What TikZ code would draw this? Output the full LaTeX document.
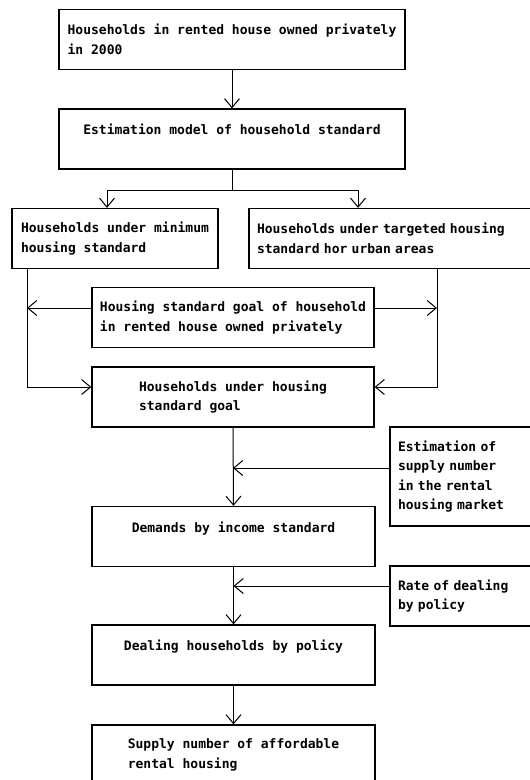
\documentclass[tikz,border=0pt]{standalone}
\usepackage{fontspec}
\setmonofont{DejaVu Sans Mono}
\usetikzlibrary{positioning, arrows.meta}

\begin{document}
\begin{tikzpicture}[x=1pt, y=1pt,
    box/.style={
        rectangle,
        draw=black,
        line width=1.3pt,
        inner sep=0pt,
        align=left,
        minimum height=60pt,
        font=\ttfamily\bfseries\fontsize{13}{19.5}\selectfont
    },
    sidebox/.style={box, inner xsep=8pt, text width=#1},
    arrow/.style={-{Straight Barb[length=9pt, width=15pt]}, line width=1pt}
]
\useasboundingbox (0,0) rectangle (530,-780);
\clip (0,0) rectangle (530,-780);
\fill[white] (0,0) rectangle (530,-780);

% === Source and model ===
\node[box, minimum width=346pt] (hh2000) at (232,-39.5) {Households in rented house owned privately\\in 2000};
\node[box, minimum width=346pt] (model) at (232,-139) {Estimation model of household standard\\~};

% === Standards ===
\node[box, minimum width=206pt] (minstd) at (115,-238.5) {Households under minimum\\housing standard};
\node[sidebox=270pt] (target) at (392,-238.5) {Households under targeted housing\\standard hor urban areas};
\node[box, minimum width=282pt] (goalstd) at (233,-317.5) {Housing standard goal of household\\in rented house owned privately};
\node[box, minimum width=282pt] (undergoal) at (233,-397) {Households under housing\\standard goal};
\coordinate (minL) at ([xshift=-88pt]minstd.south);
\coordinate (tgtR) at ([xshift=45pt]target.south);

% === Demand and policy ===
\node[sidebox=129pt, minimum height=99pt] (market) at (462.5,-476.5) {Estimation of\\supply number\\in the rental\\housing market};
\node[box, minimum width=283pt] (demand) at (233.5,-536.5) {Demands by income standard\\~};
\node[sidebox=129pt] (rate) at (462.5,-596) {Rate of dealing\\by policy};
\node[box, minimum width=283pt] (dealing) at (233.5,-655) {Dealing households by policy\\~};
\node[box, minimum width=283pt] (afford) at (233.5,-755) {Supply number of affordable\\rental housing};

% === Connectors ===
\draw[arrow] (hh2000.south) -- (model.north);
\draw[line width=1pt] (model.south) -- ++(0,-21) coordinate (split);
\draw[arrow] (split) -| ([xshift=-8pt]minstd.north);
\draw[arrow] (split) -| ([xshift=-34pt]target.north);
\draw[arrow] ([yshift=9.5pt]goalstd.west) -- ([yshift=9.5pt]goalstd.west -| minL);
\draw[arrow] ([yshift=9.5pt]goalstd.east) -- ([yshift=9.5pt]goalstd.east -| tgtR);
\draw[arrow] (minL) |- ([yshift=10pt]undergoal.west);
\draw[arrow] (tgtR) |- ([yshift=10pt]undergoal.east);
\draw[arrow] (undergoal.south) -- (demand.north);
\draw[arrow] ([yshift=8.5pt]market.west) -- ([yshift=8.5pt]market.west -| undergoal.south);
\draw[arrow] (demand.south) -- (dealing.north);
\draw[arrow] ([yshift=10pt]rate.west) -- ([yshift=10pt]rate.west -| demand.south);
\draw[arrow] (dealing.south) -- (afford.north);

\end{tikzpicture}
\end{document}
